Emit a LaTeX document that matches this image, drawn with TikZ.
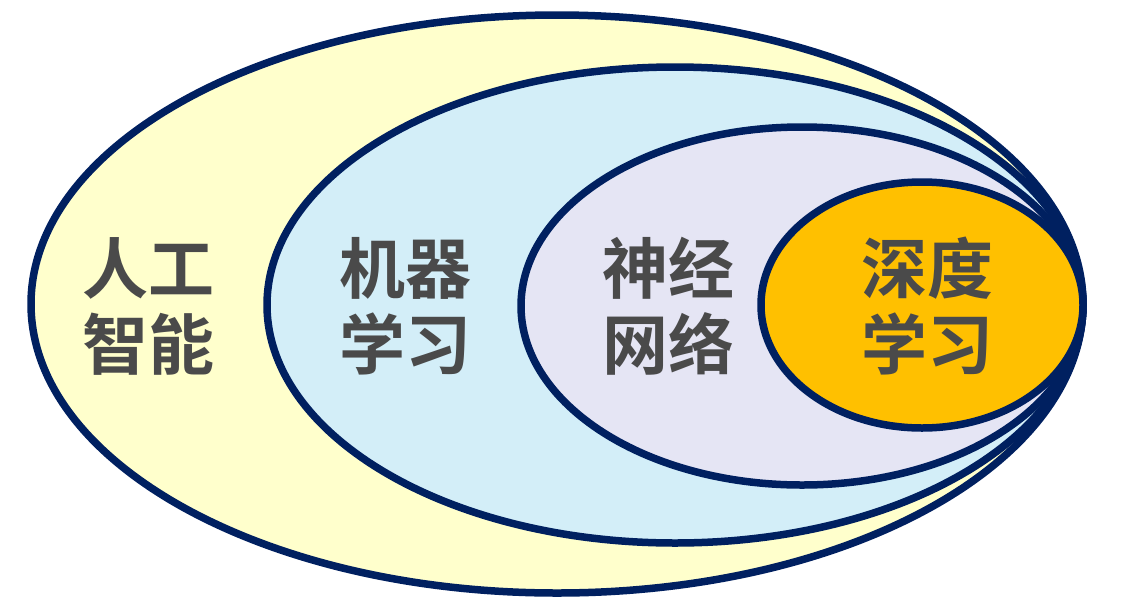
\documentclass[tikz,border=0pt]{standalone}
\usepackage{fontspec}
\newfontfamily\cjk{Noto Sans CJK SC}[BoldFont={Noto Sans CJK SC Bold}]
\definecolor{navy}{HTML}{002060}
\definecolor{txt}{HTML}{4A4A4A}
\definecolor{cA}{HTML}{FFFFCC}
\definecolor{cB}{HTML}{D3EEF8}
\definecolor{cC}{HTML}{E5E5F4}
\definecolor{cD}{HTML}{FFC000}
\begin{document}
\begin{tikzpicture}[x=1pt,y=-1pt,
  ring/.style={draw=navy,line width=7.5pt},
  lbl/.style={text=txt,font=\cjk\bfseries\fontsize{66}{76}\selectfont,align=center,inner sep=0pt}]
\useasboundingbox (0,0) rectangle (1146,614);
\draw[ring,fill=cA] (557,304) ellipse [x radius=526,y radius=289];
\draw[ring,fill=cB] (675,305) ellipse [x radius=408,y radius=238];
\draw[ring,fill=cC] (802,306) ellipse [x radius=281,y radius=179];
\draw[ring,fill=cD] (922,305) ellipse [x radius=161,y radius=123];
\node[lbl] (ai) at (148,306) {人工\\智能};
\node[lbl] (ml) at (405,306) {机器\\学习};
\node[lbl] (nn) at (668,306) {神经\\网络};
\node[lbl] (dl) at (927,306) {深度\\学习};
\end{tikzpicture}
\end{document}
